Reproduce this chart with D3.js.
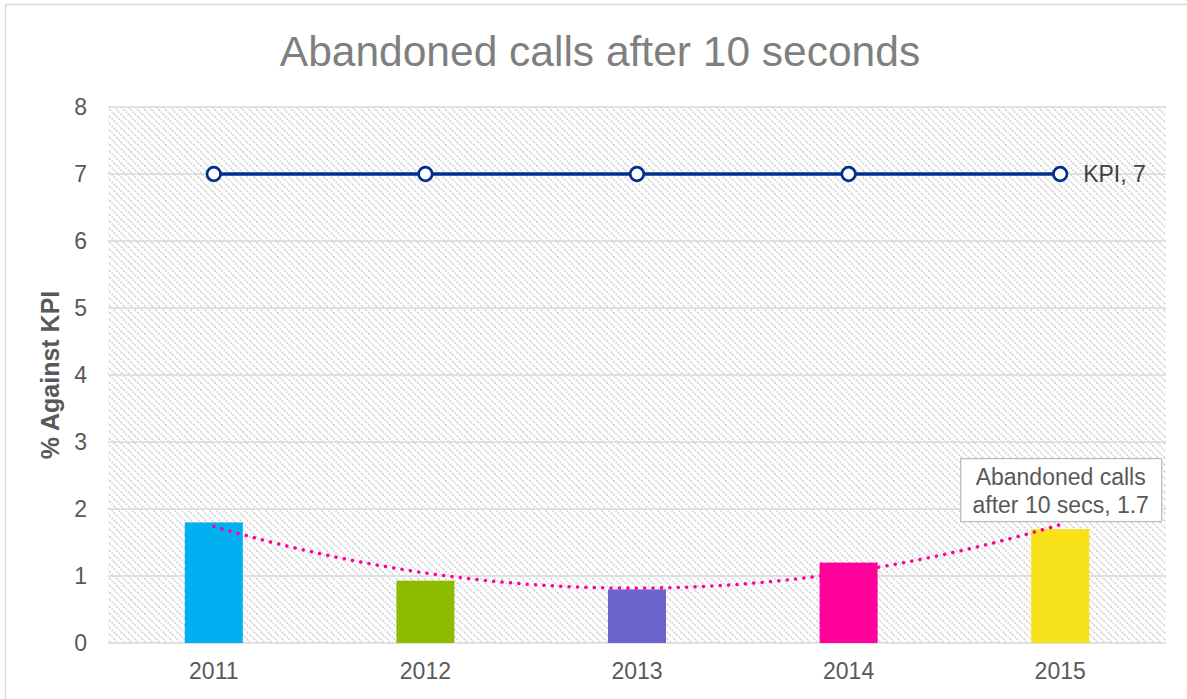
<!DOCTYPE html>
<html><head><meta charset="utf-8">
<script src="https://cdn.jsdelivr.net/npm/d3@7"></script>
<style>body{margin:0;background:#fff;} svg{display:block;font-family:"Liberation Sans",Arial,sans-serif;}</style>
</head><body>
<script>
const categories = ["2011","2012","2013","2014","2015"];
const abandoned = [1.8, 0.93, 0.8, 1.2, 1.7];
const kpi = [7, 7, 7, 7, 7];
const barColors = ["#00B0F0","#8DBB00","#6A65CC","#FF0099","#F7E11A"];
const yTicks = [0,1,2,3,4,5,6,7,8];
const title = "Abandoned calls after 10 seconds";
const yLabel = "% Against KPI";

const W = 1187, H = 699;
const m = {l:108, r:21, t:107, b:56};
const svg = d3.select("body").append("svg").attr("width",W).attr("height",H);

const defs = svg.append("defs");
const pat = defs.append("pattern").attr("id","hatch").attr("patternUnits","userSpaceOnUse")
  .attr("width",7).attr("height",7);
pat.append("path").attr("d","M-1,-1 L8,8 M-8,-1 L1,8 M6,-1 L15,8").attr("stroke","#cfcfcf").attr("stroke-width",1.5)
  .attr("stroke-dasharray","2.4,1.2");

svg.append("rect").attr("x",5.5).attr("y",4.5).attr("width",W+10).attr("height",H+10)
  .attr("fill","#fff").attr("stroke","#d9d9d9").attr("stroke-width",1.5);

const x = d3.scaleBand().domain(categories).range([m.l, W-m.r]);
const y = d3.scaleLinear().domain([0,8]).range([H-m.b, m.t]);

svg.append("rect").attr("x",m.l).attr("y",m.t).attr("width",W-m.r-m.l).attr("height",H-m.b-m.t)
  .attr("fill","url(#hatch)");

// gridlines
svg.append("g").selectAll("line").data(yTicks).join("line")
  .attr("x1",m.l).attr("x2",W-m.r).attr("y1",d=>y(d)).attr("y2",d=>y(d))
  .attr("stroke","#d9d9d9").attr("stroke-width",1.5);

// y axis
const ya = svg.append("g").attr("transform",`translate(${m.l},0)`)
  .call(d3.axisLeft(y).tickValues(yTicks).tickSize(0).tickPadding(21).tickFormat(d3.format("d")));
ya.select(".domain").remove();
ya.selectAll("text").attr("font-size",23).attr("fill","#595959").attr("font-family","Liberation Sans, Arial");

// x axis
const xa = svg.append("g").attr("transform",`translate(0,${H-m.b})`)
  .call(d3.axisBottom(x).tickSize(0).tickPadding(20));
xa.select(".domain").remove();
xa.selectAll("text").attr("font-size",23).attr("fill","#595959").attr("font-family","Liberation Sans, Arial");

// bars
const bw = 58;
svg.append("g").selectAll("rect").data(abandoned).join("rect")
  .attr("x",(d,i)=>x(categories[i])+x.bandwidth()/2-bw/2)
  .attr("width",bw)
  .attr("y",d=>y(d)).attr("height",d=>y(0)-y(d))
  .attr("fill",(d,i)=>barColors[i]);

// polynomial (order 2) trendline, least squares
const n = abandoned.length;
const ts = abandoned.map((d,i)=>i-(n-1)/2);
const mean = d3.mean(abandoned);
const b1 = d3.sum(abandoned.map((d,i)=>d*ts[i]))/d3.sum(ts.map(t=>t*t));
const qm = d3.mean(ts.map(t=>t*t));
const q = ts.map(t=>t*t - qm);
const c2 = d3.sum(abandoned.map((d,i)=>d*q[i]))/d3.sum(q.map(v=>v*v));
const trend = d3.range(0, n-1+1e-9, 0.05).map(u=>{const t=u-(n-1)/2; return [u, mean + b1*t + c2*(t*t-qm)];});
const xc = i => x(categories[0]) + x.bandwidth()/2 + i*x.step();
svg.append("path").datum(trend)
  .attr("d", d3.line().x(d=>xc(d[0])).y(d=>y(d[1])))
  .attr("fill","none").attr("stroke","#FF0099").attr("stroke-width",3.5)
  .attr("stroke-linecap","round").attr("stroke-dasharray","0.1,8.3");

// KPI line
svg.append("path").datum(kpi)
  .attr("d", d3.line().x((d,i)=>x(categories[i])+x.bandwidth()/2).y(d=>y(d)))
  .attr("fill","none").attr("stroke","#002F8E").attr("stroke-width",3.5);
svg.append("g").selectAll("circle").data(kpi).join("circle")
  .attr("cx",(d,i)=>x(categories[i])+x.bandwidth()/2).attr("cy",d=>y(d)).attr("r",6.8)
  .attr("fill","#fff").attr("stroke","#002F8E").attr("stroke-width",2.7);

// KPI label
svg.append("text").attr("x",x(categories[n-1])+x.bandwidth()/2+23).attr("y",y(kpi[n-1])).attr("dy","0.36em")
  .attr("font-size",23).attr("fill","#404040").text("KPI, " + kpi[n-1]);

// data label box for last bar
const lx = x(categories[n-1])+x.bandwidth()/2, ly = y(abandoned[n-1]);
const bx = lx - 100, by = ly - 71, bwid = 201, bh = 63;
svg.append("rect").attr("x",bx+0.5).attr("y",by+0.5).attr("width",bwid).attr("height",bh)
  .attr("fill","#fff").attr("stroke","#bfbfbf").attr("stroke-width",1.3);
const lt = svg.append("text").attr("x",bx+bwid/2).attr("text-anchor","middle").attr("font-size",23).attr("fill","#595959");
lt.append("tspan").attr("x",bx+bwid/2).attr("y",by+27).text("Abandoned calls");
lt.append("tspan").attr("x",bx+bwid/2).attr("y",by+55).text("after 10 secs, " + abandoned[n-1]);

// title
svg.append("text").attr("x",600).attr("y",66).attr("text-anchor","middle")
  .attr("font-size",42.5).attr("fill","#7f7f7f").text(title);

// y label
svg.append("text").attr("transform",`translate(59,${(m.t+H-m.b)/2}) rotate(-90)`)
  .attr("text-anchor","middle").attr("font-size",25).attr("font-weight","bold").attr("fill","#595959").text(yLabel);
</script>
</body></html>
